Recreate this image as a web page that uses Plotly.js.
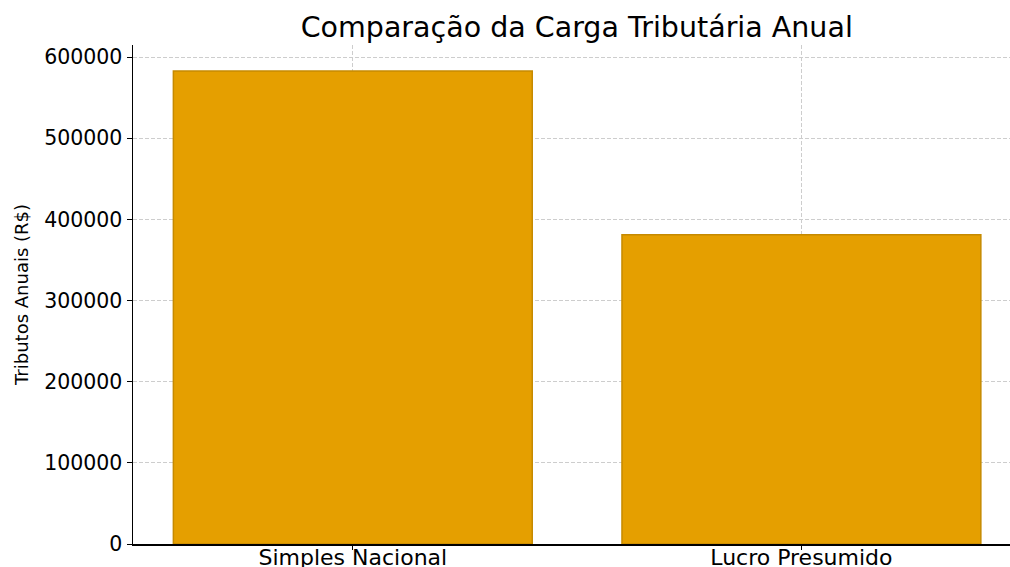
<!DOCTYPE html>
<html>
<head>
<meta charset="utf-8">
<script src="https://cdn.plot.ly/plotly-3.0.1.min.js"></script>
<style>html,body{margin:0;padding:0;background:#fff;}#chart{width:1010px;height:567px;}</style>
</head>
<body>
<div id="chart"></div>
<script>
const categories = ["Simples Nacional", "Lucro Presumido"];
const tributos = [583000, 381000];
const yTickVals = [0, 100000, 200000, 300000, 400000, 500000, 600000];
const yTickText = ["0", "100000", "200000", "300000", "400000", "500000", "600000"];

const font = "DejaVu Sans, sans-serif";

const trace = {
  type: "bar",
  x: [0, 1],
  y: tributos,
  width: 0.8,
  marker: { color: "#E59F00", line: { color: "#C68A00", width: 1.5 } },
  hoverinfo: "skip"
};

const layout = {
  width: 1010,
  height: 567,
  margin: { l: 133, r: 0, t: 45, b: 23 },
  paper_bgcolor: "#ffffff",
  plot_bgcolor: "#ffffff",
  showlegend: false,
  font: { family: font, color: "#000000" },
  title: {
    text: "Comparação da Carga Tributária Anual",
    font: { family: font, size: 28.5, color: "#000000" },
    x: 0.506, xref: "paper", xanchor: "center",
    y: 0.952, yref: "container", yanchor: "middle"
  },
  xaxis: {
    range: [-0.49, 1.465],
    tickmode: "array",
    tickvals: [0, 1],
    ticktext: categories,
    tickfont: { family: font, size: 22, color: "#000000" },
    ticks: "outside", ticklen: 4, tickwidth: 1, tickcolor: "#000000",
    ticklabelstandoff: -11,
    showline: true, linecolor: "#000000", linewidth: 1.5, mirror: false,
    showgrid: true, gridcolor: "#cdcdcd", griddash: "4px,2px", gridwidth: 1,
    zeroline: false, fixedrange: true
  },
  yaxis: {
    range: [0, 615000],
    tickmode: "array",
    tickvals: yTickVals,
    ticktext: yTickText,
    tickfont: { family: font, size: 20.5, color: "#000000" },
    ticks: "outside", ticklen: 5, tickwidth: 1, tickcolor: "#000000",
    showline: true, linecolor: "#000000", linewidth: 1.5, mirror: false,
    showgrid: true, gridcolor: "#cdcdcd", griddash: "4px,2px", gridwidth: 1,
    zeroline: false, fixedrange: true,
    title: { text: "Tributos Anuais (R$)", font: { family: font, size: 18, color: "#000000" }, standoff: 11 }
  }
};

Plotly.newPlot("chart", [trace], layout, { displayModeBar: false, staticPlot: true });
</script>
</body>
</html>
